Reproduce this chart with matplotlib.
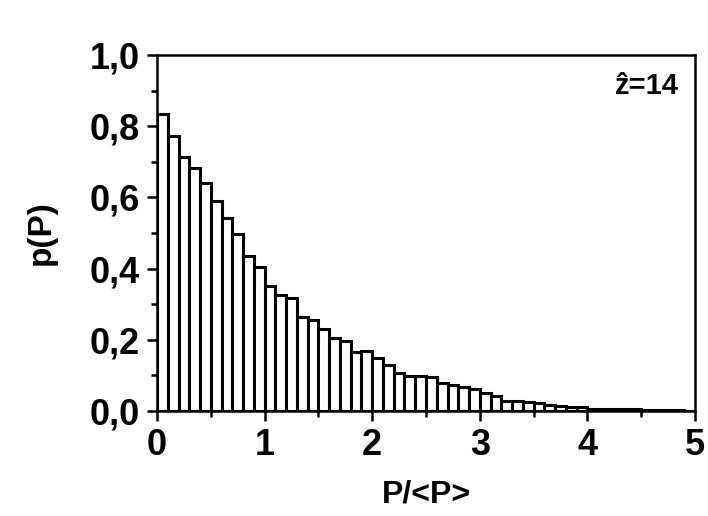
import matplotlib
matplotlib.use("Agg")
import matplotlib.pyplot as plt
from matplotlib.ticker import MultipleLocator, FixedLocator
import numpy as np

# Histogram bins (left edges) of width 0.1 from 0 to 5
bin_width = 0.1
bin_left = [round(i * 0.1, 1) for i in range(50)]
p_values = [0.834, 0.772, 0.714, 0.683, 0.640, 0.590, 0.542, 0.496, 0.435, 0.404,
            0.352, 0.325, 0.317, 0.264, 0.255, 0.231, 0.204, 0.198, 0.166, 0.168,
            0.150, 0.128, 0.108, 0.099, 0.098, 0.096, 0.078, 0.073, 0.068, 0.062,
            0.050, 0.041, 0.029, 0.029, 0.026, 0.022, 0.017, 0.013, 0.011, 0.012,
            0.005, 0.005, 0.006, 0.006, 0.005, 0.004, 0.003, 0.003, 0.002, 0.001]

x_ticks = [0, 1, 2, 3, 4, 5]
x_ticklabels = ["0", "1", "2", "3", "4", "5"]
y_ticks = [0.0, 0.2, 0.4, 0.6, 0.8, 1.0]
y_ticklabels = ["0,0", "0,2", "0,4", "0,6", "0,8", "1,0"]

plt.rcParams['font.family'] = ['Liberation Sans', 'DejaVu Sans']
plt.rcParams['font.weight'] = 'bold'

fig = plt.figure(figsize=(7.08, 5.16), dpi=100)
ax = fig.add_axes([0.2218, 0.2035, 0.7598, 0.6899])

ax.bar(bin_left, p_values, width=bin_width, align='edge', facecolor='white',
       edgecolor='black', linewidth=2.2)

ax.set_xlim(0, 5)
ax.set_ylim(0, 1.0)
ax.xaxis.set_major_locator(FixedLocator(x_ticks))
ax.set_xticklabels(x_ticklabels)
ax.yaxis.set_major_locator(FixedLocator(y_ticks))
ax.set_yticklabels(y_ticklabels)
ax.xaxis.set_minor_locator(MultipleLocator(0.5))
ax.yaxis.set_minor_locator(MultipleLocator(0.1))

ax.tick_params(which='major', direction='out', length=7, width=1.8,
               labelsize=26, pad=5)
ax.tick_params(which='minor', direction='out', length=4, width=1.8)
ax.tick_params(top=False, right=False, which='both')
for lbl in ax.get_xticklabels() + ax.get_yticklabels():
    lbl.set_fontweight('bold')

for s in ax.spines.values():
    s.set_linewidth(1.8)

ax.set_xlabel("P/<P>", fontsize=23, fontweight='bold', labelpad=12)
ax.set_ylabel("p(P)", fontsize=24, fontweight='bold', labelpad=24)

ax.text(4.85, 0.89, "ẑ=14", fontsize=21, fontweight='bold', ha='right',
        va='baseline')

fig.savefig("out.png", dpi=100)
